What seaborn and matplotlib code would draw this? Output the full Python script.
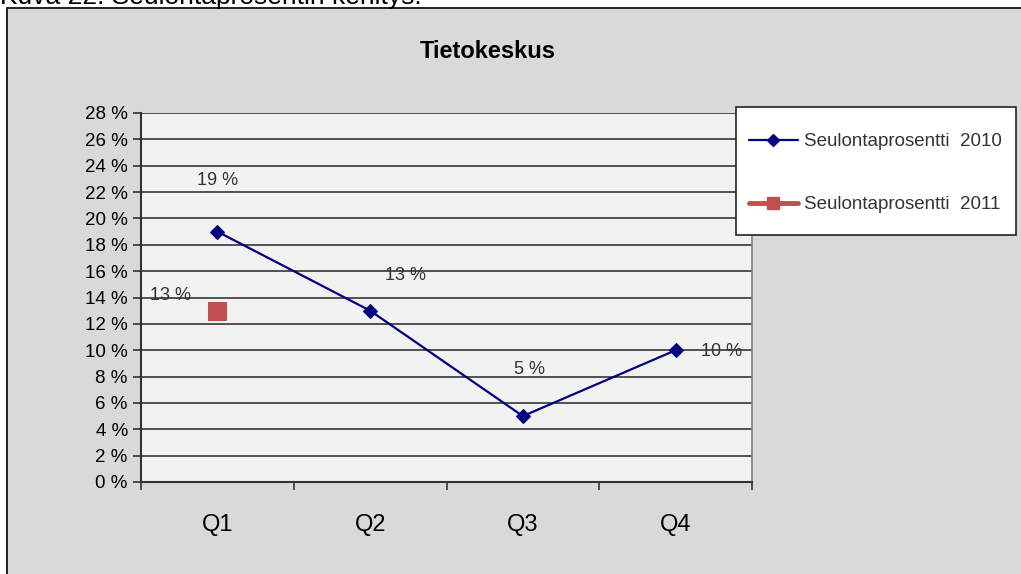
import matplotlib
matplotlib.use("Agg")
import matplotlib.pyplot as plt
from matplotlib.lines import Line2D
from matplotlib.patches import Rectangle
import seaborn as sns
import pandas as pd

quarters = ["Q1", "Q2", "Q3", "Q4"]
rate_2010 = [19, 13, 5, 10]
rate_2011 = [13]
labels = ["Seulontaprosentti  2010", "Seulontaprosentti  2011"]
title = "Tietokeskus"
caption = "Kuva 22. Seulontaprosentin kehitys."

# label offsets in pixels, (dx, dy) from the point
offs_2010 = [(0, 51), (35, 35), (7, 47), (46, -1)]
offs_2011 = [(-47, 15)]

sns.set_theme(style="white")
plt.rcParams["font.family"] = ["Liberation Sans", "DejaVu Sans"]
plt.rcParams["text.color"] = "black"
plt.rcParams["xtick.color"] = "black"
plt.rcParams["ytick.color"] = "black"

BLUE = "#000080"
RED = "#c0504d"
W, H = 1021, 574

fig = plt.figure(figsize=(W / 100, H / 100), dpi=100)
fig.patch.set_facecolor("white")
fig.add_artist(Rectangle((7 / W, -0.05), 1.2, 1.05 - 7.5 / H, transform=fig.transFigure,
                         fc="#d9d9d9", ec="#222222", lw=1.4, zorder=-10))
# caption of the page, cut off at the top like in the screenshot
fig.text(0 / W, 1 - 4 / H, caption, fontsize=19, va="baseline", ha="left", color="black")

ax = fig.add_axes([141 / W, 1 - 482 / H, (752 - 141) / W, (482 - 113) / H])
ax.set_facecolor("#f2f2f2")

df10 = pd.DataFrame({"q": quarters, "v": rate_2010})
df11 = pd.DataFrame({"q": quarters[:len(rate_2011)], "v": rate_2011})

sns.lineplot(data=df10, x="q", y="v", ax=ax, color=BLUE, lw=1.6, marker="D",
             markersize=7, markeredgecolor=BLUE, zorder=5)
sns.lineplot(data=df11, x="q", y="v", ax=ax, color=RED, lw=3, marker="s",
             markersize=13, markeredgecolor=RED, zorder=5)

for i, (v, (dx, dy)) in enumerate(zip(rate_2010, offs_2010)):
    ax.annotate(f"{v} %", (i, v), xytext=(dx, dy), textcoords="offset pixels",
                ha="center", va="center", fontsize=13, color="#333333", zorder=6)
for i, (v, (dx, dy)) in enumerate(zip(rate_2011, offs_2011)):
    ax.annotate(f"{v} %", (i, v), xytext=(dx, dy), textcoords="offset pixels",
                ha="center", va="center", fontsize=13, color="#333333", zorder=6)

ax.set_xlim(-0.5, 3.5)
ax.set_ylim(0, 28)
yt = list(range(0, 29, 2))
ax.set_yticks(yt)
ax.set_yticklabels([f"{t} %" for t in yt], fontsize=13.5)
ax.yaxis.grid(True, color="#363636", lw=1.2)
ax.set_axisbelow(True)

ax.set_xticks([-0.5, 0.5, 1.5, 2.5, 3.5])
ax.set_xticklabels([""] * 5)
ax.set_xticks(range(len(quarters)), minor=True)
ax.set_xticklabels(quarters, minor=True, fontsize=17)
ax.tick_params(axis="x", which="minor", length=0, pad=23)
ax.tick_params(axis="both", which="major", direction="out", length=6, width=1.2,
               color="#333333", pad=3.5, left=True, bottom=True)
ax.set_xlabel("")
ax.set_ylabel("")

for s in ["left", "bottom"]:
    ax.spines[s].set_color("#333333")
    ax.spines[s].set_linewidth(1.5)
ax.spines["right"].set_color("#808080")
ax.spines["right"].set_linewidth(1.2)
ax.spines["top"].set_visible(False)
if ax.get_legend():
    ax.get_legend().remove()

fig.text(488 / W, 1 - 52 / H, title, fontsize=17, fontweight="bold", ha="center",
         va="center", color="black")

# legend box drawn by hand, entries placed inside it
fig.add_artist(Rectangle((736 / W, 1 - 235 / H), 280 / W, 128 / H, transform=fig.transFigure,
                         fc="white", ec="#222222", lw=1.2, zorder=8))
handles = [
    Line2D([], [], color=BLUE, lw=1.6, marker="D", markersize=6),
    Line2D([], [], color=RED, lw=3.5, marker="s", markersize=9),
]
leg = fig.legend(handles, labels, loc="upper left", bbox_to_anchor=(749 / W, 1 - 133 / H),
                 frameon=False, fontsize=13.5, handlelength=2.6, handletextpad=0.35,
                 borderpad=0, labelspacing=2.45, borderaxespad=0)
leg.set_zorder(9)
for t in leg.get_texts():
    t.set_color("#333333")

fig.savefig("out.png", dpi=100)
